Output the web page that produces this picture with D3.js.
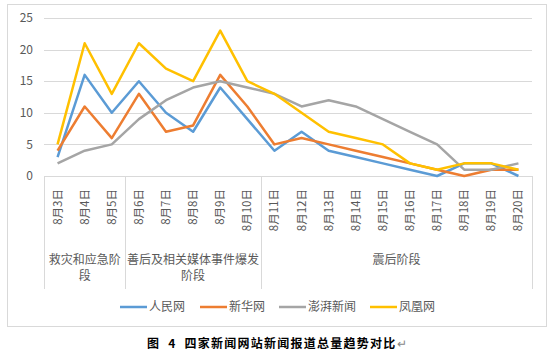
<!DOCTYPE html>
<html>
<meta charset="utf-8">
<title>四家新闻网站新闻报道总量趋势对比</title>
<style>
  body { margin: 0; background: #fff; font-family: "Noto Sans CJK SC", sans-serif; }
  .grid line { stroke: #d9d9d9; stroke-width: 1; shape-rendering: crispEdges; }
  .tick-label { fill: #595959; font-size: 12px; }
</style>
<script src="https://d3js.org/d3.v7.min.js"></script>
<body>
<script>
  // data
  var days = ['8月3日','8月4日','8月5日','8月6日','8月7日','8月8日','8月9日','8月10日','8月11日',
              '8月12日','8月13日','8月14日','8月15日','8月16日','8月17日','8月18日','8月19日','8月20日'];
  var stages = ['救灾和应急阶段', '善后及相关媒体事件爆发阶段', '震后阶段'];
  var stageSizes = [3, 5, 10];
  var seriesNames = ['人民网', '新华网', '澎湃新闻', '凤凰网'];
  var renmin  = [3, 16, 10, 15, 10, 7, 14, 9, 4, 7, 4, 3, 2, 1, 0, 2, 2, 0];
  var xinhua  = [4, 11, 6, 13, 7, 8, 16, 11, 5, 6, 5, 4, 3, 2, 1, 0, 1, 1];
  var pengpai = [2, 4, 5, 9, 12, 14, 15, 14, 13, 11, 12, 11, 9, 7, 5, 1, 1, 2];
  var fenghuang = [5, 21, 13, 21, 17, 15, 23, 15, 13, 10, 7, 6, 5, 2, 1, 2, 2, 1];
  var yTicks = [0, 5, 10, 15, 20, 25];
  var colors = ['#5b9bd5', '#ed7d31', '#a5a5a5', '#ffc000'];

  var values = [renmin, xinhua, pengpai, fenghuang];

  var W = 548, H = 352;
  var svg = d3.select('body').append('svg').attr('width', W).attr('height', H);

  // chart frame
  svg.append('rect')
     .attr('x', 7.5).attr('y', 4.5)
     .attr('width', 539).attr('height', 322)
     .attr('fill', '#fff').attr('stroke', '#d9d9d9');

  var pLeft = 44, pRight = 532, pTop = 18, pBottom = 176;

  var x = d3.scaleBand().domain(days).range([pLeft, pRight]).padding(0);
  var y = d3.scaleLinear().domain([0, 25]).range([pBottom, pTop]);

  // gridlines
  svg.append('g').attr('class', 'grid')
     .selectAll('line').data(yTicks.slice(1)).enter().append('line')
     .attr('x1', pLeft).attr('x2', pRight)
     .attr('y1', function(d) { return Math.round(y(d)) + 0.5; })
     .attr('y2', function(d) { return Math.round(y(d)) + 0.5; });

  // y labels
  svg.selectAll('.ylab').data(yTicks).enter().append('text')
     .attr('class', 'tick-label')
     .attr('x', 33).attr('y', function(d) { return y(d); })
     .attr('dy', '0.35em')
     .attr('text-anchor', 'end')
     .text(function(d) { return d; });

  // x axis line + stage separators
  var g = svg.append('g').attr('class', 'grid');
  g.append('line').attr('x1', pLeft).attr('x2', pRight)
   .attr('y1', pBottom + 0.5).attr('y2', pBottom + 0.5);

  var bounds = [0], acc = 0;
  stageSizes.forEach(function(n) { acc += n; bounds.push(acc); });
  function edge(i) { return i >= days.length ? pRight : x(days[i]); }

  g.selectAll('.sep').data(bounds).enter().append('line')
   .attr('x1', function(i) { return Math.round(edge(i)) + 0.5; })
   .attr('x2', function(i) { return Math.round(edge(i)) + 0.5; })
   .attr('y1', pBottom).attr('y2', 289);

  // rotated day labels
  svg.selectAll('.day').data(days).enter().append('text')
     .attr('fill', '#595959')
     .style('font-size', '11.5px')
     .attr('text-anchor', 'end')
     .attr('dy', '0.35em')
     .attr('transform', function(d) {
        return 'translate(' + (x(d) + x.bandwidth() / 2) + ',189) rotate(-90)';
     })
     .text(function(d) { return d; });

  // stage labels (wrapped by character)
  var fs = 12;
  stages.forEach(function(s, i) {
    var x0 = edge(bounds[i]), x1 = edge(bounds[i + 1]);
    var perLine = Math.floor((x1 - x0 - 2) / fs);
    var lines = [];
    for (var k = 0; k < s.length; k += perLine) lines.push(s.slice(k, k + perLine));
    var t = svg.append('text')
       .attr('fill', '#595959')
       .style('font-size', fs + 'px')
       .attr('text-anchor', 'middle');
    lines.forEach(function(l, j) {
      t.append('tspan').attr('x', (x0 + x1) / 2).attr('y', 264 + j * 16).text(l);
    });
  });

  // lines
  var line = d3.line()
     .x(function(d, i) { return x(days[i]) + x.bandwidth() / 2; })
     .y(function(d) { return y(d); });

  svg.selectAll('.series').data(values).enter().append('path')
     .attr('fill', 'none')
     .attr('stroke', function(d, i) { return colors[i]; })
     .attr('stroke-width', 2.5)
     .attr('stroke-linejoin', 'round')
     .attr('d', line);

  // legend
  var legendX = [120, 200, 279, 370];
  var legend = svg.selectAll('.legend').data(seriesNames).enter().append('g')
     .attr('transform', function(d, i) { return 'translate(' + legendX[i] + ',307)'; });
  legend.append('line')
     .attr('x1', 0).attr('x2', 27)
     .attr('stroke', function(d, i) { return colors[i]; })
     .attr('stroke-width', 2.5);
  legend.append('text')
     .attr('x', 29).attr('dy', '0.35em')
     .attr('fill', '#595959')
     .style('font-size', '12px')
     .text(function(d) { return d; });

  // caption
  var cap = svg.append('text')
     .attr('x', 147).attr('y', 348)
     .style('font-size', '12px')
     .style('font-weight', 'bold')
     .style('letter-spacing', '1.25px')
     .style('word-spacing', '4px')
     .attr('fill', '#000')
     .text('图 4 四家新闻网站新闻报道总量趋势对比');
  cap.append('tspan').attr('fill', '#888').style('font-weight', 'normal').text('↵');
</script>
</body>
</html>
